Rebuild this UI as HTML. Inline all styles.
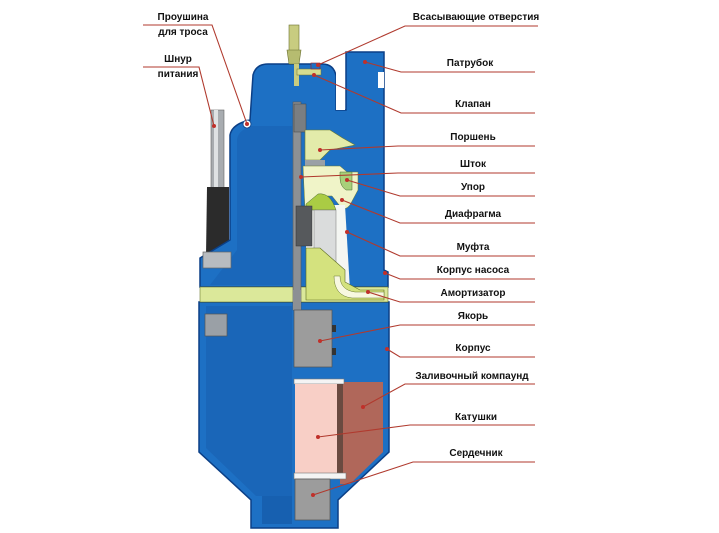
<!DOCTYPE html>
<html><head><meta charset="utf-8"><style>
html,body{margin:0;padding:0;background:#fff;}
svg{display:block}
text{font-family:"Liberation Sans",sans-serif;font-weight:bold;font-size:10px;fill:#111;}
</style></head><body>
<svg width="719" height="533" viewBox="0 0 719 533" xmlns="http://www.w3.org/2000/svg">
<!-- cord -->
<rect x="211" y="110" width="13" height="78" fill="#a8acb0" stroke="#666" stroke-width="0.6"/>
<rect x="214" y="110" width="4" height="78" fill="#dfe2e4"/>
<path d="M207 187 H229 V250 L214 256 H206 Z" fill="#2b2b2b"/>
<!-- lower body -->
<path d="M199 302 H389 V452 L338 500 V528 H251 V500 L199 452 Z" fill="#1d70c4" stroke="#0b3f86" stroke-width="1.5"/>
<path d="M206 306 H292 V496 H256 L206 448 Z" fill="#1a66b8"/>
<path d="M262 496 H292 V524 H262 Z" fill="#1760b0"/>
<!-- upper body -->
<path d="M200 258 L230 240 V135 Q232 124 250 120 L253 75 Q256 64 268 64 H322 Q334 64 336 76 V110 H346 V52 H384 V270 L388 272 V287 H200 Z" fill="#1d70c4" stroke="#0b3f86" stroke-width="1.5"/>
<path d="M237 140 Q238 130 252 126 H292 V285 H210 L237 250 Z" fill="#1a67ba"/>
<!-- slot between dome and pipe -->
<rect x="336" y="62" width="9" height="48" fill="#fff"/>
<path d="M378 72 H384 V88 H378 Z" fill="#fff"/>
<!-- eyelet -->
<circle cx="247" cy="124" r="4" fill="#fff" stroke="#0b3f86" stroke-width="0.8"/>
<!-- nut -->
<rect x="203" y="252" width="28" height="16" fill="#b8bcc0" stroke="#666" stroke-width="0.7"/>
<rect x="205" y="314" width="22" height="22" fill="#9aa0a6" stroke="#555" stroke-width="0.7"/>
<!-- yellow band (amortizer) -->
<rect x="200" y="287" width="188" height="15" fill="#dbe89a" stroke="#6a7a30" stroke-width="0.6"/>
<!-- cut section interior (upper) -->
<rect x="293" y="102" width="8" height="208" fill="#8c9094" stroke="#555" stroke-width="0.6"/>
<rect x="294" y="104" width="12" height="28" fill="#7a7e82" stroke="#444" stroke-width="0.5"/>
<path d="M305 130 H330 Q342 138 355 145 L330 150 L320 160 H305 Z" fill="#e3ebaa" stroke="#6a7a30" stroke-width="0.6"/>
<rect x="305" y="160" width="20" height="6" fill="#9aa0a6"/>
<path d="M303 166 H340 L347 172 H358 V190 L350 205 Q344 212 340 206 L332 196 H318 L305 210 Z" fill="#f0f4c8" stroke="#6a7a30" stroke-width="0.5"/>
<path d="M340 172 H352 V190 L346 190 Q340 186 340 178 Z" fill="#a8d07a" stroke="#4a6a30" stroke-width="0.5"/>
<path d="M306 205 H345 L350 290 H306 Z" fill="#f4f6f2"/>
<path d="M306 204 L318 194 Q330 192 336 210 H306 Z" fill="#aacc44" stroke="#4a6a30" stroke-width="0.5"/>
<rect x="314" y="210" width="22" height="60" fill="#dadcdc" stroke="#777" stroke-width="0.5"/>
<rect x="296" y="206" width="16" height="40" fill="#56595c" stroke="#333" stroke-width="0.5"/>
<path d="M306 248 H320 L345 270 V282 L360 290 H384 V300 H340 L306 300 Z" fill="#d4e27e" stroke="#5a6a20" stroke-width="0.6"/>
<path d="M340 276 Q340 290 355 292 H384 V298 H352 Q334 296 334 276 Z" fill="#f8f8e0" stroke="#6a7a30" stroke-width="0.5"/>
<rect x="293" y="290" width="8" height="20" fill="#8c9094"/>
<!-- armature -->
<rect x="294" y="310" width="38" height="57" fill="#9c9c9c" stroke="#555" stroke-width="0.7"/>
<rect x="332" y="325" width="4" height="7" fill="#333"/>
<rect x="332" y="348" width="4" height="7" fill="#333"/>
<!-- compound -->
<path d="M340 382 H383 V452 L350 484 H340 Z" fill="#b0675a"/>
<!-- coil -->
<rect x="294" y="379" width="50" height="5" fill="#f4f4f4" stroke="#777" stroke-width="0.6"/>
<rect x="295" y="384" width="45" height="89" fill="#f8cfc6"/>
<rect x="337" y="384" width="6" height="89" fill="#6a4a40"/>
<rect x="294" y="473" width="52" height="6" fill="#f4f4f4" stroke="#777" stroke-width="0.6"/>
<!-- core -->
<rect x="295" y="479" width="35" height="41" fill="#9c9c9c" stroke="#555" stroke-width="0.7"/>
<!-- top rod -->
<rect x="289" y="25" width="10" height="26" fill="#c8cc80" stroke="#6a7030" stroke-width="0.6"/>
<path d="M287 50 H301 L299 64 H289 Z" fill="#b6bc70" stroke="#6a7030" stroke-width="0.6"/>
<rect x="294" y="64" width="5" height="22" fill="#c8cc80"/>
<rect x="297" y="69" width="24" height="6" fill="#d6dc90" stroke="#6a7030" stroke-width="0.5"/>
<rect x="311" y="63" width="9" height="6" fill="#1d70c4" stroke="#a02020" stroke-width="0.6"/>

<!-- leader lines -->
<g stroke="#b03a2e" stroke-width="1.1" fill="none">
<path d="M143 25 H212 L247 124"/>
<path d="M143 67 H199 L214 126"/>
<path d="M538 26 H405 L318 65"/>
<path d="M535 72 H401 L365 62"/>
<path d="M535 113 H401 L314 75"/>
<path d="M535 146 H398 L320 150"/>
<path d="M535 173 H398 L301 177"/>
<path d="M535 196 H400 L347 180"/>
<path d="M535 223 H400 L342 200"/>
<path d="M535 256 H400 L347 232"/>
<path d="M535 279 H400 L385 273"/>
<path d="M535 302 H400 L368 292"/>
<path d="M535 325 H400 L320 341"/>
<path d="M535 357 H400 L387 349"/>
<path d="M535 384 H405 L363 407"/>
<path d="M535 425 H410 L318 437"/>
<path d="M535 462 H413 L313 495"/>
</g>
<g fill="#c0302a">
<circle cx="247" cy="124" r="2"/><circle cx="214" cy="126" r="2"/><circle cx="318" cy="65" r="2"/><circle cx="365" cy="62" r="2"/>
<circle cx="314" cy="75" r="2"/><circle cx="320" cy="150" r="2"/><circle cx="301" cy="177" r="2"/><circle cx="347" cy="180" r="2"/>
<circle cx="342" cy="200" r="2"/><circle cx="347" cy="232" r="2"/><circle cx="385" cy="273" r="2"/><circle cx="368" cy="292" r="2"/>
<circle cx="320" cy="341" r="2"/><circle cx="387" cy="349" r="2"/><circle cx="363" cy="407" r="2"/><circle cx="318" cy="437" r="2"/><circle cx="313" cy="495" r="2"/>
</g>
<!-- labels -->
<text x="183" y="20" text-anchor="middle">Проушина</text>
<text x="183" y="35" text-anchor="middle">для троса</text>
<text x="178" y="62" text-anchor="middle">Шнур</text>
<text x="178" y="77" text-anchor="middle">питания</text>
<text x="476" y="20" text-anchor="middle">Всасывающие отверстия</text>
<text x="470" y="66" text-anchor="middle">Патрубок</text>
<text x="473" y="107" text-anchor="middle">Клапан</text>
<text x="473" y="140" text-anchor="middle">Поршень</text>
<text x="473" y="167" text-anchor="middle">Шток</text>
<text x="473" y="190" text-anchor="middle">Упор</text>
<text x="473" y="217" text-anchor="middle">Диафрагма</text>
<text x="473" y="250" text-anchor="middle">Муфта</text>
<text x="473" y="273" text-anchor="middle">Корпус насоса</text>
<text x="473" y="296" text-anchor="middle">Амортизатор</text>
<text x="473" y="319" text-anchor="middle">Якорь</text>
<text x="473" y="351" text-anchor="middle">Корпус</text>
<text x="472" y="379" text-anchor="middle">Заливочный компаунд</text>
<text x="476" y="420" text-anchor="middle">Катушки</text>
<text x="476" y="456" text-anchor="middle">Сердечник</text>
</svg>
</body></html>
